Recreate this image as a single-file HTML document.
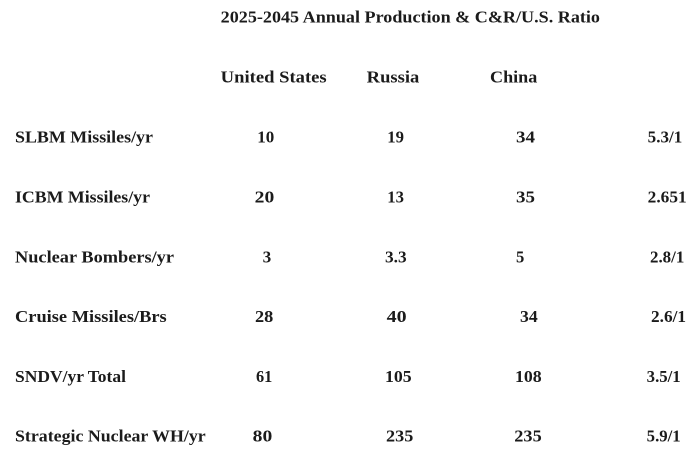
<!DOCTYPE html>
<html>
<head>
<meta charset="utf-8">
<style>
html,body{margin:0;padding:0;background:#fff;}
svg{display:block;}
text{font-family:"Liberation Serif",serif;font-weight:bold;fill:#1b1b1b;font-size:16.5px;}
</style>
</head>
<body>
<svg width="700" height="455" viewBox="0 0 700 455" xmlns="http://www.w3.org/2000/svg">
<rect width="700" height="455" fill="#fff"/>
<text x="220.7" y="22.7" textLength="379.3" lengthAdjust="spacingAndGlyphs">2025-2045 Annual Production &amp; C&amp;R/U.S. Ratio</text>

<text x="220.7" y="82.3" textLength="106" lengthAdjust="spacingAndGlyphs">United States</text>
<text x="366.7" y="82.3" textLength="52.6" lengthAdjust="spacingAndGlyphs">Russia</text>
<text x="490" y="82.3" textLength="47.3" lengthAdjust="spacingAndGlyphs">China</text>

<!-- Row 1 -->
<text x="15" y="142.5" textLength="138" lengthAdjust="spacingAndGlyphs">SLBM Missiles/yr</text>
<text x="257.3" y="142.5" textLength="17" lengthAdjust="spacingAndGlyphs">10</text>
<text x="387.3" y="142.5" textLength="16.7" lengthAdjust="spacingAndGlyphs">19</text>
<text x="516" y="142.5" textLength="19" lengthAdjust="spacingAndGlyphs">34</text>
<text x="647.7" y="142.5" textLength="34.6" lengthAdjust="spacingAndGlyphs">5.3/1</text>

<!-- Row 2 -->
<text x="15" y="202.5" textLength="135" lengthAdjust="spacingAndGlyphs">ICBM Missiles/yr</text>
<text x="254.7" y="202.5" textLength="19.6" lengthAdjust="spacingAndGlyphs">20</text>
<text x="387.3" y="202.5" textLength="16.7" lengthAdjust="spacingAndGlyphs">13</text>
<text x="516" y="202.5" textLength="19" lengthAdjust="spacingAndGlyphs">35</text>
<text x="647.7" y="202.5" textLength="39" lengthAdjust="spacingAndGlyphs">2.651</text>

<!-- Row 3 -->
<text x="15" y="262.3" textLength="159" lengthAdjust="spacingAndGlyphs">Nuclear Bombers/yr</text>
<text x="262.7" y="262.3" textLength="8.6" lengthAdjust="spacingAndGlyphs">3</text>
<text x="385" y="262.3" textLength="21.7" lengthAdjust="spacingAndGlyphs">3.3</text>
<text x="516" y="262.3" textLength="8.3" lengthAdjust="spacingAndGlyphs">5</text>
<text x="650" y="262.3" textLength="34.3" lengthAdjust="spacingAndGlyphs">2.8/1</text>

<!-- Row 4 -->
<text x="15" y="322" textLength="151.7" lengthAdjust="spacingAndGlyphs">Cruise Missiles/Brs</text>
<text x="255" y="322" textLength="18.3" lengthAdjust="spacingAndGlyphs">28</text>
<text x="386.7" y="322" textLength="20" lengthAdjust="spacingAndGlyphs">40</text>
<text x="520" y="322" textLength="17.7" lengthAdjust="spacingAndGlyphs">34</text>
<text x="651" y="322" textLength="35" lengthAdjust="spacingAndGlyphs">2.6/1</text>

<!-- Row 5 -->
<text x="15" y="382" textLength="111" lengthAdjust="spacingAndGlyphs">SNDV/yr Total</text>
<text x="256" y="382" textLength="16.3" lengthAdjust="spacingAndGlyphs">61</text>
<text x="385" y="382" textLength="26.7" lengthAdjust="spacingAndGlyphs">105</text>
<text x="515" y="382" textLength="26.7" lengthAdjust="spacingAndGlyphs">108</text>
<text x="646.7" y="382" textLength="34" lengthAdjust="spacingAndGlyphs">3.5/1</text>

<!-- Row 6 -->
<text x="15" y="441.7" textLength="190.7" lengthAdjust="spacingAndGlyphs">Strategic Nuclear WH/yr</text>
<text x="252.7" y="441.7" textLength="19.6" lengthAdjust="spacingAndGlyphs">80</text>
<text x="386" y="441.7" textLength="27.3" lengthAdjust="spacingAndGlyphs">235</text>
<text x="514.3" y="441.7" textLength="27.4" lengthAdjust="spacingAndGlyphs">235</text>
<text x="646.7" y="441.7" textLength="34" lengthAdjust="spacingAndGlyphs">5.9/1</text>
</svg>
</body>
</html>
